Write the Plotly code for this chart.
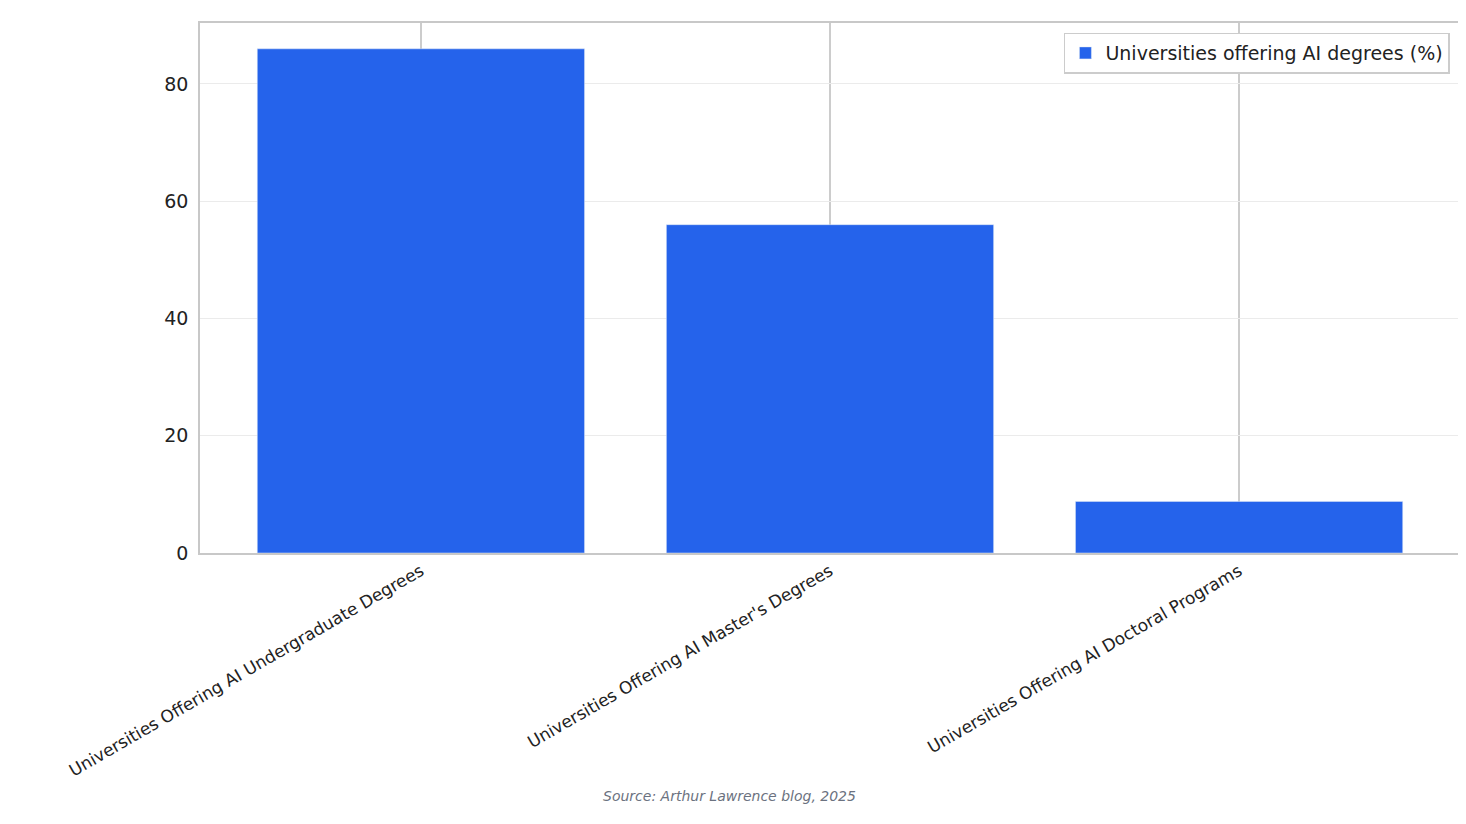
import plotly.graph_objects as go

categories = ["Universities Offering AI Undergraduate Degrees",
              "Universities Offering AI Master's Degrees",
              "Universities Offering AI Doctoral Programs"]
values = [86, 56, 8.8]
series_name = "Universities offering AI degrees (%)"

fig = go.Figure(go.Bar(x=categories, y=values, name=series_name, marker_color="#2563eb",
                       width=0.8, showlegend=True))
fig.update_layout(
    width=1466, height=824, paper_bgcolor="white", plot_bgcolor="white",
    margin=dict(l=192, r=14, t=15, b=279),
    font=dict(family="DejaVu Sans", size=19, color="#222"),
    showlegend=True,
    legend=dict(x=0.992, y=0.982, xanchor="right", yanchor="top", bordercolor="#cccccc",
                borderwidth=1.5, bgcolor="white", font=dict(size=19)),
    bargap=0.2,
)
fig.update_xaxes(range=[-0.54, 2.54], showgrid=True, gridcolor="#cccccc", gridwidth=1.5,
                 tickangle=-30, tickfont=dict(size=17), showline=True, linecolor="#c8c8c8",
                 linewidth=1.5, mirror=True, ticks="")
fig.update_yaxes(range=[0, 90.4], dtick=20, showgrid=True, gridcolor="#ebebeb", gridwidth=1,
                 showline=True, linecolor="#c8c8c8", linewidth=1.5, mirror=True, zeroline=False,
                 ticks="", ticklabelstandoff=6)
fig.add_annotation(text="<i>Source: Arthur Lawrence blog, 2025</i>", xref="paper", yref="paper",
                   x=0.42, y=-0.478, showarrow=False, font=dict(size=14, color="#6b7280"))
fig.write_html("out.html")
